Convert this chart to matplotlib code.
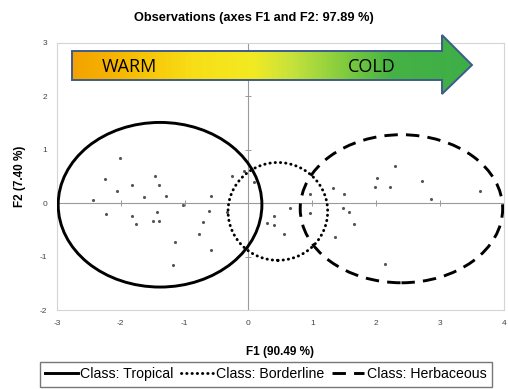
import numpy as np
import matplotlib
matplotlib.use("Agg")
import matplotlib.pyplot as plt
from matplotlib.patches import Ellipse, Polygon
from matplotlib.lines import Line2D
from matplotlib.colors import LinearSegmentedColormap

plt.rcParams['font.family'] = ['Liberation Sans', 'DejaVu Sans']
plt.rcParams['axes.unicode_minus'] = False

# observations (F1, F2)
obs_f1 = [-2.43, -2.23, -2.25, -2.01, -2.06, -1.82, -1.82, -1.76, -1.64, -1.47,
          -1.40, -1.29, -1.44, -1.49, -1.40, -1.15, -1.18, -1.02, -0.78, -0.71,
          -0.62, -0.59, -0.59, -0.33, -0.26, -0.07, 0.08, 0.29, 0.40, 0.40,
          0.55, 0.65, 0.96, 0.96, 1.32, 1.35, 1.50, 1.48, 1.58, 1.65,
          1.98, 2.02, 2.22, 2.30, 2.14, 2.71, 2.86, 3.63]
obs_f2 = [0.05, -0.21, 0.46, 0.84, 0.22, 0.33, -0.24, -0.39, 0.11, 0.51,
          0.33, 0.13, -0.16, -0.33, -0.33, -0.73, -1.15, -0.04, -0.58, -0.36,
          -0.15, 0.14, -0.88, -0.17, 0.51, 0.61, 0.39, -0.38, -0.24, -0.41,
          -0.58, -0.09, 0.17, -0.19, 0.28, -0.64, 0.18, -0.09, -0.17, -0.39,
          0.30, 0.47, 0.30, 0.69, -1.13, 0.42, 0.08, 0.22]

# class ellipses
class_names = ['Class: Tropical', 'Class: Borderline', 'Class: Herbaceous']
ell_cx = [-1.385, 0.46, 2.395]
ell_cy = [-0.03, -0.155, -0.105]
ell_w = [3.19, 1.56, 3.17]
ell_h = [3.08, 1.83, 2.77]

x_ticks = [-3, -2, -1, 0, 1, 2, 3, 4]
y_ticks = [-2, -1, 0, 1, 2, 3]

line_styles = ['-', (0, (0.1, 1.7)), (0, (4.6, 2.8))]
cap_styles = ['butt', 'round', 'butt']

fig = plt.figure(figsize=(5.08, 3.89), dpi=100)
ax = fig.add_axes([0.112, 0.203, 0.880, 0.687])
ax.set_xlim(-3, 4)
ax.set_ylim(-2, 3)
for s in ax.spines.values():
    s.set_color('#d4d4d4')
    s.set_linewidth(0.8)
ax.set_xticks(x_ticks)
ax.set_yticks(y_ticks)
ax.tick_params(length=0, labelsize=6, labelcolor='#444444', pad=7)

ax.axhline(0, color='#9a9a9a', lw=0.8, zorder=1)
ax.axvline(0, color='#9a9a9a', lw=0.8, zorder=1)
# small tick marks on zero lines
ax.plot(x_ticks, [0] * len(x_ticks), ls='none', marker='|', ms=4, mew=0.7, color='#9a9a9a')
ax.plot([0] * len(y_ticks), y_ticks, ls='none', marker='_', ms=4, mew=0.7, color='#9a9a9a')

ax.scatter(obs_f1, obs_f2, s=5, color='#555555', zorder=3, linewidths=0)

for cx, cy, w, h, ls, cs in zip(ell_cx, ell_cy, ell_w, ell_h, line_styles, cap_styles):
    e = Ellipse((cx, cy), width=w, height=h, fill=False, edgecolor='black',
                lw=2.1, linestyle=ls, capstyle=cs, zorder=4)
    ax.add_patch(e)

ax.set_xlabel('F1 (90.49 %)', fontsize=8.5, fontweight='bold', labelpad=14)
ax.set_ylabel('F2 (7.40 %)', fontsize=8.5, fontweight='bold', labelpad=10)
fig.text(0.5, 0.955, 'Observations (axes F1 and F2: 97.89 %)', ha='center',
         va='center', fontsize=9.2, fontweight='bold')

# legend
handles = [Line2D([], [], color='black', lw=2.1, linestyle=ls, dash_capstyle=cs)
           for ls, cs in zip(line_styles, cap_styles)]
fig.legend(handles, class_names, loc='lower left', bbox_to_anchor=(0.078, 0.005),
           ncol=3, fontsize=10.2, frameon=True, fancybox=False, edgecolor='#555555',
           handlelength=2.3, handletextpad=0.15, columnspacing=0.55,
           borderpad=0.4, borderaxespad=0.0)

# warm -> cold arrow overlay (pixel coordinates)
ov = fig.add_axes([0, 0, 1, 1], zorder=5)
ov.set_xlim(0, 508)
ov.set_ylim(389, 0)
ov.axis('off')
arrow_pts = [(72, 51), (442, 51), (442, 35), (472, 65), (442, 94), (442, 80), (72, 80)]
cmap = LinearSegmentedColormap.from_list('wc', [
    (0.0, '#f3a200'), (0.12, '#f6b800'), (0.3, '#f8de16'), (0.45, '#f3ea22'),
    (0.55, '#c6e23c'), (0.68, '#82cc3e'), (0.8, '#45b244'), (1.0, '#3dae47')])
grad = np.linspace(0, 1, 256).reshape(1, -1)
im = ov.imshow(grad, cmap=cmap, extent=[72, 472, 94, 35], aspect='auto', zorder=1)
poly = Polygon(arrow_pts, closed=True, facecolor='none', edgecolor='#3e5a8c', lw=1.4, zorder=2)
ov.add_patch(poly)
im.set_clip_path(poly)
ov.text(102, 67, 'WARM', fontsize=13, va='center', ha='left', color='black',
        family=['Open Sans', 'DejaVu Sans'])
ov.text(348, 67, 'COLD', fontsize=13, va='center', ha='left', color='black',
        family=['Open Sans', 'DejaVu Sans'])

fig.savefig('out.png', dpi=100)
